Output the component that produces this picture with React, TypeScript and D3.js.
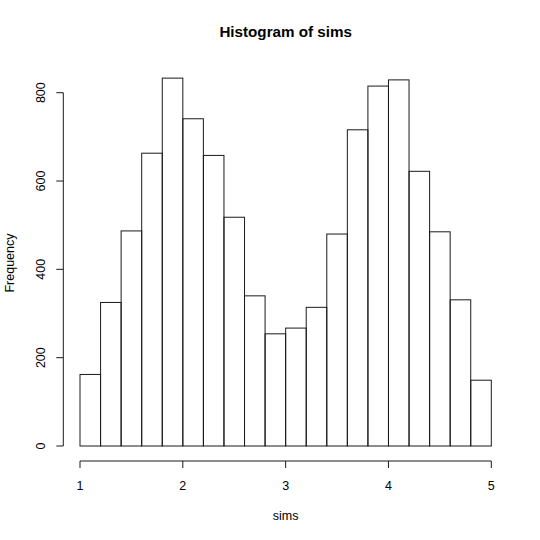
import React from "react";
import * as d3 from "d3";

const binStarts = [1.0, 1.2, 1.4, 1.6, 1.8, 2.0, 2.2, 2.4, 2.6, 2.8, 3.0, 3.2, 3.4, 3.6, 3.8, 4.0, 4.2, 4.4, 4.6, 4.8];
const binWidth = 0.2;
const counts = [162, 325, 487, 663, 833, 741, 658, 518, 340, 254, 267, 314, 480, 716, 815, 829, 622, 485, 331, 149];
const xTicks = [1, 2, 3, 4, 5];
const yTicks = [0, 200, 400, 600, 800];
const title = "Histogram of sims";
const xLabel = "sims";
const yLabel = "Frequency";

export default function App() {
  const W = 540, H = 540;
  const x = d3.scaleLinear().domain([1, 5]).range([80, 491.3]);
  const y = d3.scaleLinear().domain([0, 800]).range([446, 92.7]);
  const font = "'Liberation Sans', Arial, sans-serif";
  const stroke = "#1a1a1a";
  const axisY = 461;
  const axisX = 63.3;
  return (
    <svg width={W} height={H} style={{ position: "absolute", left: 0, top: 0, background: "#fff" }} fontFamily={font}>
      <rect x={0} y={0} width={W} height={H} fill="#fff" />
      <text x={(x(1) + x(5)) / 2} y={37} textAnchor="middle" fontWeight="bold" fontSize={15.2} fill="#000">{title}</text>
      {binStarts.map((b, i) => (
        <rect key={i} x={x(b)} y={y(counts[i])} width={x(b + binWidth) - x(b)} height={y(0) - y(counts[i])}
          fill="none" stroke={stroke} strokeWidth={1} />
      ))}
      {/* x axis */}
      <line x1={x(1)} x2={x(5)} y1={axisY} y2={axisY} stroke={stroke} strokeWidth={1} />
      {xTicks.map(t => (
        <g key={t}>
          <line x1={x(t)} x2={x(t)} y1={axisY} y2={axisY + 7} stroke={stroke} strokeWidth={1} />
          <text x={x(t)} y={axisY + 29} textAnchor="middle" fontSize={12.5} fill="#000">{t}</text>
        </g>
      ))}
      <text x={(x(1) + x(5)) / 2} y={520} textAnchor="middle" fontSize={12.5} fill="#000">{xLabel}</text>
      {/* y axis */}
      <line x1={axisX} x2={axisX} y1={y(0)} y2={y(800)} stroke={stroke} strokeWidth={1} />
      {yTicks.map(t => (
        <g key={t}>
          <line x1={axisX} x2={axisX - 7} y1={y(t)} y2={y(t)} stroke={stroke} strokeWidth={1} />
          <text transform={`translate(${axisX - 18},${y(t)}) rotate(-90)`} textAnchor="middle" fontSize={12.5} fill="#000">{t}</text>
        </g>
      ))}
      <text transform={`translate(14,263) rotate(-90)`} textAnchor="middle" fontSize={12.5} fill="#000">{yLabel}</text>
    </svg>
  );
}
